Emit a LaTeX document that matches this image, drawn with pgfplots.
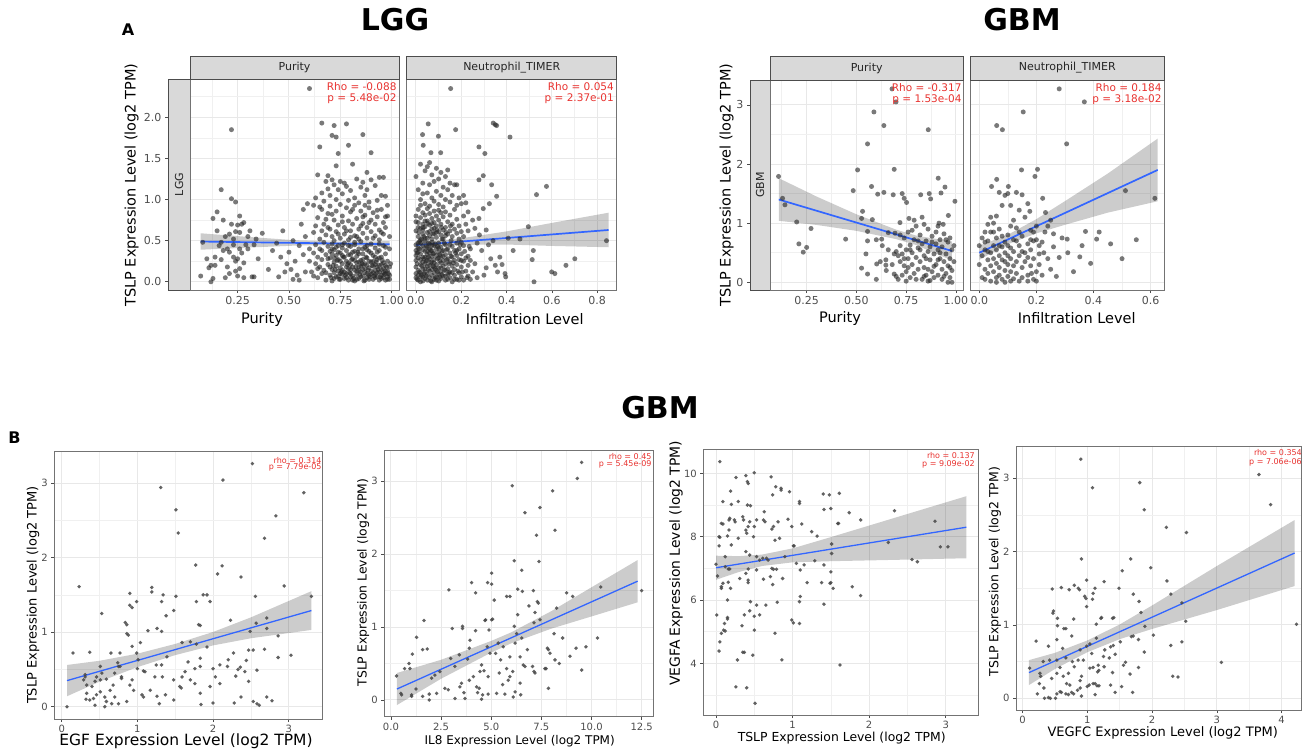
\documentclass[border=0pt]{standalone}
\usepackage{fontspec}
\setmainfont{DejaVu Sans}
\usepackage{pgfplots}
\pgfplotsset{compat=1.18}
\definecolor{ggblue}{HTML}{3366FF}
\definecolor{ggred}{HTML}{E8322F}
\definecolor{strip}{HTML}{D9D9D9}
\definecolor{tickc}{HTML}{4D4D4D}
\pgfplotsset{
  gg/.style={scale only axis, anchor=north west, grid=both,
    major grid style={draw=black!9, line width=1pt},
    minor grid style={draw=black!6, line width=0.6pt},
    axis line style={draw=black!55, line width=0.8pt},
    tick align=outside, tick pos=left, major tick length=3pt, minor tick length=0pt,
    tick style={draw=black!70, line width=0.6pt},
    /pgf/number format/assume math mode=true,
    ticklabel style={text=tickc, font=\fontsize{11}{11}\selectfont},
  },
  ggb/.style={gg, ticklabel style={text=tickc, font=\fontsize{10}{10}\selectfont}},
  pts/.style={only marks, mark=*, mark size=2.5pt, mark options={fill=black!85, draw opacity=0, fill opacity=0.62}},
  ptsb/.style={only marks, mark=*, mark size=1.9pt, mark options={fill=black!72, draw opacity=0, fill opacity=0.85}},
  band/.style={draw=none, fill=black, fill opacity=0.2},
  fitl/.style={ggblue, line width=1.7pt, no marks},
}
\begin{document}
\begin{tikzpicture}
\path[use as bounding box] (0pt,0pt) rectangle (1315pt,-748pt);

% ================= LGG (top left) =================
\begin{axis}[gg, at={(168pt,-79pt)}, width=22pt, height=211pt, xmin=0, xmax=1, ymin=-0.10, ymax=2.466,
  xtick=\empty, ytick={0,0.5,1,1.5,2}, yticklabels={0.0,0.5,1.0,1.5,2.0}, grid=none,
  axis background/.style={fill=strip}, axis line style={draw=black!70, line width=0.8pt}]
\addplot[draw=none, forget plot] coordinates {(0.5,0)};
\end{axis}
\begin{axis}[gg, at={(190pt,-79pt)}, width=209pt, height=211pt, xmin=0.018, xmax=1.036, ymin=-0.10, ymax=2.466,
  xtick={0.25,0.5,0.75,1}, xticklabels={0.25,0.50,0.75,1.00}, minor xtick={0.125,0.375,0.625,0.875},
  ytick={0,0.5,1,1.5,2}, yticklabels={}, minor ytick={0.25,0.75,1.25,1.75,2.25}, ytick style={draw=none}]
\addplot[pts] coordinates {
(0.07,0.07)(0.10,0.28)(0.12,0.00)(0.13,0.04)(0.12,0.20)(0.14,0.20)(0.13,0.77)(0.15,0.85)(0.15,0.62)(0.16,0.44)(0.17,0.27)(0.17,1.12)(0.18,0.75)(0.18,0.38)(0.19,0.55)(0.20,0.18)(0.20,0.40)(0.21,0.58)(0.21,0.10)(0.22,1.85)(0.22,1.01)(0.22,0.70)(0.23,0.30)(0.23,0.45)(0.23,0.52)(0.24,0.97)(0.24,0.25)(0.24,0.13)(0.25,0.07)(0.25,0.69)(0.25,0.28)(0.26,0.40)(0.26,0.80)(0.26,0.60)(0.27,0.70)(0.27,0.35)(0.28,0.72)(0.28,0.23)(0.28,0.05)(0.29,0.45)(0.30,0.40)(0.30,0.55)(0.31,0.62)(0.32,0.06)(0.33,0.06)(0.33,0.45)(0.34,0.52)(0.35,0.28)(0.37,0.59)(0.14,0.30)(0.19,0.05)(0.21,0.36)(0.26,0.16)(0.17,0.48)(0.11,0.17)(0.08,0.48)(0.24,0.61)
(0.40,0.15)(0.42,0.38)(0.45,0.06)(0.46,0.30)(0.47,0.62)(0.49,0.22)(0.50,0.36)(0.51,0.15)(0.52,0.50)(0.53,0.25)(0.54,0.08)(0.55,0.44)(0.55,0.02)(0.56,0.70)(0.57,0.33)(0.57,0.88)(0.58,0.12)(0.58,0.55)(0.59,0.95)(0.60,2.35)(0.60,0.25)(0.60,0.40)(0.44,0.47)(0.52,0.03)(0.48,0.12)
(0.66,1.93)(0.72,1.90)(0.78,1.92)(0.86,1.79)(0.71,1.78)(0.73,1.76)(0.65,1.64)(0.79,1.66)(0.74,1.56)(0.90,1.57)(0.81,1.43)(0.73,1.41)(0.64,1.30)(0.69,1.29)(0.88,1.33)(0.94,1.27)(0.96,1.27)(0.71,1.24)(0.75,1.22)(0.77,1.20)(0.83,1.25)(0.86,1.21)(0.90,1.24)(0.68,1.22)(0.72,1.18)(0.78,1.16)(0.69,1.13)(0.74,1.12)(0.80,1.11)(0.85,1.15)(0.88,1.12)(0.92,1.17)(0.95,1.05)(0.66,1.08)(0.63,1.02)(0.97,1.04)(0.62,0.93)(0.67,0.98)(0.70,1.05)(0.73,1.00)(0.76,1.07)(0.79,0.99)(0.82,1.02)(0.84,0.96)(0.87,1.05)(0.89,0.97)(0.93,0.99)(0.98,0.93)(0.98,0.80)(0.99,0.55)
(0.62,0.60)(0.64,0.78)(0.65,0.52)(0.66,0.88)(0.67,0.70)(0.68,0.57)(0.69,0.83)(0.70,0.64)(0.70,0.92)(0.71,0.55)(0.72,0.75)(0.73,0.86)(0.73,0.61)(0.74,0.69)(0.75,0.53)(0.75,0.94)(0.76,0.80)(0.77,0.66)(0.77,0.58)(0.78,0.90)(0.79,0.74)(0.79,0.51)(0.80,0.85)(0.80,0.62)(0.81,0.70)(0.82,0.56)(0.82,0.93)(0.83,0.77)(0.84,0.64)(0.84,0.52)(0.85,0.86)(0.86,0.71)(0.86,0.59)(0.87,0.81)(0.88,0.66)(0.88,0.53)(0.89,0.90)(0.90,0.75)(0.90,0.61)(0.91,0.84)(0.92,0.56)(0.92,0.70)(0.93,0.79)(0.94,0.63)(0.94,0.51)(0.95,0.88)(0.96,0.72)(0.96,0.58)(0.97,0.66)(0.63,0.68)(0.65,0.91)(0.68,0.76)(0.71,0.82)(0.74,0.58)(0.76,0.73)(0.78,0.62)(0.81,0.88)(0.83,0.55)(0.85,0.68)(0.87,0.93)(0.89,0.72)(0.91,0.53)(0.93,0.87)(0.95,0.60)(0.97,0.79)(0.72,0.50)(0.80,0.54)(0.86,0.79)(0.69,0.66)(0.66,0.62)
(0.61,0.12)(0.62,0.35)(0.63,0.22)(0.63,0.45)(0.64,0.05)(0.64,0.30)(0.65,0.18)(0.65,0.40)(0.66,0.10)(0.66,0.27)(0.67,0.48)(0.67,0.14)(0.68,0.33)(0.68,0.02)(0.69,0.21)(0.69,0.43)(0.70,0.08)(0.70,0.29)(0.70,0.37)(0.71,0.15)(0.71,0.46)(0.71,0.01)(0.72,0.24)(0.72,0.39)(0.72,0.11)(0.73,0.06)(0.73,0.32)(0.73,0.19)(0.74,0.44)(0.74,0.13)(0.74,0.27)(0.75,0.03)(0.75,0.35)(0.75,0.17)(0.76,0.22)(0.76,0.41)(0.76,0.09)(0.77,0.30)(0.77,0.12)(0.77,0.47)(0.78,0.05)(0.78,0.25)(0.78,0.38)(0.79,0.16)(0.79,0.02)(0.79,0.33)(0.80,0.10)(0.80,0.43)(0.80,0.21)(0.81,0.07)(0.81,0.28)(0.81,0.36)(0.82,0.14)(0.82,0.01)(0.82,0.45)(0.83,0.23)(0.83,0.09)(0.83,0.31)(0.84,0.18)(0.84,0.40)(0.84,0.04)(0.85,0.12)(0.85,0.26)(0.85,0.49)(0.86,0.07)(0.86,0.34)(0.86,0.15)(0.87,0.02)(0.87,0.22)(0.87,0.42)(0.88,0.10)(0.88,0.29)(0.88,0.05)(0.89,0.17)(0.89,0.37)(0.89,0.08)(0.90,0.13)(0.90,0.24)(0.90,0.46)(0.91,0.03)(0.91,0.19)(0.91,0.32)(0.92,0.09)(0.92,0.41)(0.92,0.14)(0.93,0.06)(0.93,0.27)(0.93,0.11)(0.94,0.20)(0.94,0.02)(0.94,0.38)(0.95,0.08)(0.95,0.15)(0.95,0.30)(0.96,0.05)(0.96,0.23)(0.96,0.44)(0.97,0.10)(0.97,0.02)(0.97,0.34)(0.98,0.13)(0.98,0.06)(0.98,0.25)(0.99,0.18)(0.99,0.08)(0.99,0.40)
(0.62,0.07)(0.64,0.16)(0.66,0.38)(0.68,0.11)(0.69,0.28)(0.70,0.18)(0.71,0.34)(0.72,0.04)(0.73,0.42)(0.74,0.07)(0.75,0.25)(0.76,0.14)(0.77,0.04)(0.78,0.18)(0.79,0.44)(0.80,0.15)(0.81,0.02)(0.82,0.26)(0.83,0.13)(0.84,0.34)(0.85,0.06)(0.86,0.21)(0.87,0.11)(0.88,0.39)(0.89,0.03)(0.90,0.09)(0.91,0.25)(0.92,0.05)(0.93,0.18)(0.94,0.12)(0.95,0.04)(0.96,0.16)(0.97,0.20)(0.98,0.03)(0.72,0.29)(0.76,0.32)(0.80,0.06)(0.84,0.24)(0.88,0.20)(0.92,0.30)(0.96,0.11)(0.74,0.36)(0.78,0.10)(0.82,0.37)(0.86,0.27)(0.90,0.35)(0.94,0.29)(0.83,0.03)(0.87,0.16)(0.91,0.11)(0.93,0.36)(0.79,0.23)(0.85,0.19)(0.89,0.25)(0.95,0.21)(0.97,0.13)(0.99,0.03)(0.75,0.10)(0.81,0.18)
(0.705,0.05)(0.715,0.20)(0.725,0.15)(0.735,0.26)(0.745,0.03)(0.755,0.12)(0.765,0.30)(0.775,0.08)(0.785,0.21)(0.795,0.11)(0.805,0.27)(0.815,0.04)(0.825,0.18)(0.835,0.36)(0.845,0.09)(0.855,0.22)(0.865,0.01)(0.875,0.30)(0.885,0.14)(0.895,0.06)(0.905,0.20)(0.915,0.07)(0.925,0.24)(0.935,0.15)(0.945,0.06)(0.955,0.26)(0.965,0.09)(0.975,0.18)(0.985,0.10)(0.995,0.22)(0.76,0.45)(0.82,0.48)(0.88,0.44)(0.94,0.46)(0.71,0.40)(0.80,0.33)(0.86,0.40)(0.92,0.21)(0.97,0.42)(0.84,0.14)
};
\addplot[band] coordinates {(0.07,0.59)(0.3,0.546)(0.55,0.502)(0.75,0.487)(0.99,0.494)(0.99,0.414)(0.75,0.443)(0.55,0.442)(0.3,0.416)(0.07,0.39)} -- cycle;
\addplot[fitl] coordinates {(0.07,0.4895)(0.99,0.4565)};
\end{axis}
\begin{axis}[gg, at={(406.7pt,-79pt)}, width=210pt, height=211pt, xmin=-0.041, xmax=0.886, ymin=-0.10, ymax=2.466,
  xtick={0,0.2,0.4,0.6,0.8}, xticklabels={0.0,0.2,0.4,0.6,0.8}, minor xtick={0.1,0.3,0.5,0.7},
  ytick={0,0.5,1,1.5,2}, yticklabels={}, minor ytick={0.25,0.75,1.25,1.75,2.25}, ytick style={draw=none}]
\addplot[pts] coordinates {
(0.153,2.35)(0.054,1.92)(0.175,1.85)(0.341,1.93)(0.350,1.91)(0.356,1.90)(0.029,1.79)(0.099,1.77)(0.415,1.76)(0.032,1.66)(0.066,1.57)(0.109,1.57)(0.278,1.64)(0.304,1.56)(0.297,1.29)(0.278,1.24)(0.334,1.18)(0.576,1.16)(0.532,1.06)(0.356,1.04)(0.324,0.95)(0.297,0.89)(0.278,0.77)(0.496,0.67)(0.459,0.52)(0.407,0.53)(0.429,0.38)(0.518,0.38)(0.513,0.27)(0.701,0.28)(0.662,0.20)(0.841,0.50)(0.599,0.12)(0.613,0.10)(0.521,0.00)(0.393,0.10)(0.396,0.06)(0.37,0.30)(0.35,0.20)(0.33,0.28)(0.31,0.17)(0.36,0.12)(0.30,0.08)(0.27,0.05)(0.25,0.12)(0.26,0.22)(0.29,0.38)(0.32,0.45)(0.24,0.40)(0.28,0.57)(0.26,0.65)(0.23,0.85)(0.25,0.75)(0.22,0.96)(0.21,1.05)(0.23,0.31)(0.31,0.63)(0.34,0.50)(0.38,0.21)(0.27,0.47)
(0.00,1.28)(0.01,1.12)(0.02,1.43)(0.02,1.00)(0.03,1.20)(0.04,1.35)(0.04,0.95)(0.05,1.08)(0.05,1.40)(0.06,1.18)(0.06,0.92)(0.07,1.30)(0.07,1.02)(0.08,1.22)(0.08,0.98)(0.09,1.38)(0.09,1.10)(0.10,0.94)(0.10,1.25)(0.11,1.05)(0.11,1.33)(0.12,1.15)(0.12,0.91)(0.13,1.00)(0.13,1.28)(0.14,1.12)(0.15,0.97)(0.15,1.20)(0.16,1.05)(0.17,1.18)(0.18,0.93)(0.18,1.18)(0.19,1.02)(0.20,0.95)(0.03,1.07)(0.14,1.36)(0.06,1.45)
(0.00,0.62)(0.00,0.80)(0.01,0.55)(0.01,0.72)(0.01,0.88)(0.02,0.65)(0.02,0.51)(0.02,0.78)(0.03,0.58)(0.03,0.84)(0.03,0.70)(0.04,0.53)(0.04,0.67)(0.04,0.81)(0.05,0.60)(0.05,0.74)(0.05,0.89)(0.06,0.56)(0.06,0.69)(0.06,0.83)(0.07,0.52)(0.07,0.64)(0.07,0.77)(0.08,0.59)(0.08,0.72)(0.08,0.86)(0.09,0.54)(0.09,0.68)(0.09,0.80)(0.10,0.61)(0.10,0.75)(0.10,0.87)(0.11,0.57)(0.11,0.70)(0.12,0.63)(0.12,0.79)(0.12,0.52)(0.13,0.66)(0.13,0.85)(0.14,0.58)(0.14,0.73)(0.15,0.62)(0.15,0.81)(0.16,0.55)(0.16,0.70)(0.17,0.64)(0.17,0.88)(0.18,0.59)(0.18,0.76)(0.19,0.52)(0.19,0.68)(0.20,0.61)(0.21,0.80)(0.21,0.55)(0.22,0.70)(0.23,0.62)(0.02,0.93)(0.04,0.74)(0.06,0.61)(0.08,0.65)(0.11,0.84)(0.13,0.56)(0.03,0.63)(0.05,0.53)(0.07,0.71)(0.09,0.60)(0.01,0.66)(0.00,0.73)
(0.00,0.05)(0.00,0.18)(0.00,0.32)(0.00,0.45)(0.00,0.10)(0.00,0.26)(0.01,0.02)(0.01,0.14)(0.01,0.29)(0.01,0.41)(0.01,0.08)(0.01,0.36)(0.02,0.00)(0.02,0.21)(0.02,0.34)(0.02,0.47)(0.02,0.11)(0.02,0.27)(0.03,0.06)(0.03,0.16)(0.03,0.39)(0.03,0.24)(0.03,0.44)(0.03,0.01)(0.04,0.12)(0.04,0.30)(0.04,0.04)(0.04,0.22)(0.04,0.37)(0.04,0.49)(0.05,0.09)(0.05,0.19)(0.05,0.33)(0.05,0.42)(0.05,0.02)(0.05,0.26)(0.06,0.13)(0.06,0.05)(0.06,0.28)(0.06,0.40)(0.06,0.20)(0.06,0.46)(0.07,0.00)(0.07,0.15)(0.07,0.31)(0.07,0.38)(0.07,0.08)(0.07,0.24)(0.08,0.03)(0.08,0.18)(0.08,0.35)(0.08,0.44)(0.08,0.11)(0.08,0.27)(0.09,0.06)(0.09,0.21)(0.09,0.40)(0.09,0.14)(0.09,0.32)(0.10,0.01)(0.10,0.17)(0.10,0.29)(0.10,0.47)(0.10,0.09)(0.10,0.36)(0.11,0.04)(0.11,0.23)(0.11,0.42)(0.11,0.12)(0.11,0.31)(0.12,0.07)(0.12,0.19)(0.12,0.38)(0.12,0.26)(0.13,0.02)(0.13,0.14)(0.13,0.33)(0.13,0.45)(0.13,0.22)(0.14,0.09)(0.14,0.28)(0.14,0.40)(0.14,0.16)(0.15,0.05)(0.15,0.24)(0.15,0.35)(0.15,0.12)(0.16,0.00)(0.16,0.19)(0.16,0.43)(0.16,0.30)(0.17,0.08)(0.17,0.26)(0.17,0.38)(0.17,0.15)(0.18,0.03)(0.18,0.21)(0.18,0.47)(0.18,0.32)(0.19,0.11)(0.19,0.27)(0.19,0.40)(0.20,0.06)(0.20,0.18)(0.20,0.34)(0.21,0.02)(0.21,0.25)(0.21,0.44)(0.22,0.13)(0.22,0.29)(0.23,0.07)(0.23,0.20)(0.24,0.03)(0.24,0.26)(0.19,0.02)(0.20,0.48)(0.01,0.47)(0.03,0.30)(0.05,0.37)(0.07,0.44)(0.09,0.02)(0.11,0.17)(0.13,0.07)(0.15,0.45)(0.17,0.03)(0.00,0.38)(0.02,0.06)(0.04,0.16)(0.06,0.35)(0.08,0.23)(0.10,0.41)(0.12,0.31)(0.14,0.03)(0.16,0.11)(0.18,0.38)(0.20,0.26)
(0.005,0.03)(0.015,0.12)(0.025,0.19)(0.035,0.28)(0.045,0.07)(0.055,0.15)(0.065,0.23)(0.075,0.34)(0.085,0.05)(0.095,0.12)(0.105,0.25)(0.115,0.37)(0.005,0.22)(0.015,0.40)(0.025,0.52)(0.035,0.10)(0.045,0.43)(0.055,0.30)(0.065,0.01)(0.075,0.19)(0.085,0.46)(0.095,0.28)(0.105,0.06)(0.115,0.52)(0.125,0.14)(0.135,0.39)(0.145,0.22)(0.155,0.31)(0.005,0.35)(0.015,0.49)(0.025,0.08)(0.035,0.55)(0.045,0.25)(0.055,0.47)(0.065,0.38)(0.075,0.58)(0.085,0.16)(0.095,0.43)(0.105,0.33)(0.115,0.09)(0.125,0.47)(0.135,0.27)(0.145,0.11)(0.155,0.50)(0.165,0.23)(0.175,0.35)(0.185,0.13)(0.195,0.45)(0.205,0.12)(0.215,0.37)(0.225,0.05)(0.235,0.43)(0.012,0.60)(0.032,0.66)(0.052,0.71)(0.072,0.48)(0.092,0.63)(0.112,0.66)(0.132,0.60)(0.152,0.68)
};
\addplot[band] coordinates {(0,0.496)(0.1,0.503)(0.2,0.529)(0.4,0.613)(0.6,0.716)(0.85,0.84)(0.85,0.42)(0.6,0.436)(0.4,0.453)(0.2,0.449)(0.1,0.433)(0,0.396)} -- cycle;
\addplot[fitl] coordinates {(0,0.446)(0.85,0.63)};
\end{axis}
\draw[fill=strip, draw=black!70, line width=0.7pt] (190pt,-56pt) rectangle (399pt,-79pt);
\draw[fill=strip, draw=black!70, line width=0.7pt] (406.7pt,-56pt) rectangle (616.7pt,-79pt);
\node[font=\fontsize{11}{11}\selectfont, text=black!85] at (294.5pt,-67.5pt) {Purity};
\node[font=\fontsize{11}{11}\selectfont, text=black!85] at (511.7pt,-67.5pt) {Neutrophil\_TIMER};
\node[rotate=90, font=\fontsize{11}{11}\selectfont, text=black!85] at (179pt,-184.5pt) {LGG};
\node[font=\fontsize{10.5}{10.5}\selectfont, text=ggred, anchor=base east, inner sep=0pt] at (396.7pt,-90.5pt) {Rho = -0.088};
\node[font=\fontsize{10.5}{10.5}\selectfont, text=ggred, anchor=base east, inner sep=0pt] at (396.7pt,-101.1pt) {p = 5.48e-02};
\node[font=\fontsize{10.5}{10.5}\selectfont, text=ggred, anchor=base east, inner sep=0pt] at (614pt,-90.5pt) {Rho = 0.054};
\node[font=\fontsize{10.5}{10.5}\selectfont, text=ggred, anchor=base east, inner sep=0pt] at (614pt,-101.1pt) {p = 2.37e-01};
\node[rotate=90, font=\fontsize{14.5}{14.5}\selectfont] at (131.7pt,-185pt) {TSLP Expression Level (log2 TPM)};
\node[font=\fontsize{14.5}{14.5}\selectfont] at (262pt,-319pt) {Purity};
\node[font=\fontsize{14.5}{14.5}\selectfont] at (524.7pt,-319pt) {Infiltration Level};

% ================= GBM (top right) =================
\begin{axis}[gg, at={(750pt,-80pt)}, width=20pt, height=210pt, xmin=0, xmax=1, ymin=-0.13, ymax=3.42,
  xtick=\empty, ytick={0,1,2,3}, grid=none,
  axis background/.style={fill=strip}, axis line style={draw=black!70, line width=0.8pt}]
\addplot[draw=none, forget plot] coordinates {(0.5,0)};
\end{axis}
\begin{axis}[gg, at={(770pt,-80pt)}, width=193.3pt, height=210pt, xmin=0.066, xmax=1.037, ymin=-0.13, ymax=3.42,
  xtick={0.25,0.5,0.75,1}, xticklabels={0.25,0.50,0.75,1.00}, minor xtick={0.125,0.375,0.625,0.875},
  ytick={0,1,2,3}, yticklabels={}, minor ytick={0.5,1.5,2.5}, ytick style={draw=none}]
\addplot[pts] coordinates {
(0.109,1.79)(0.129,1.42)(0.141,1.31)(0.200,1.02)(0.272,0.91)(0.211,0.65)(0.25,0.59)(0.233,0.51)(0.446,0.73)(0.484,1.55)(0.506,1.90)(0.531,1.20)(0.526,1.08)(0.556,2.34)(0.588,2.88)(0.576,1.62)(0.607,1.49)(0.638,2.65)(0.638,1.52)(0.679,3.27)(0.699,3.05)(0.690,1.91)(0.861,2.58)(0.556,0.86)(0.556,0.70)(0.548,0.48)(0.526,0.24)(0.556,0.14)(0.602,0.31)(0.627,0.73)(0.648,0.38)(0.648,0.29)(0.66,0.84)(0.694,0.83)(0.719,1.01)(0.685,1.48)(0.73,1.50)(0.74,1.42)(0.752,1.35)(0.764,1.08)(0.823,1.48)(0.866,1.50)(0.873,1.41)(0.925,1.51)(0.945,1.61)(0.911,1.76)(0.995,1.37)(0.962,1.13)(0.915,1.00)(0.936,0.98)(0.58,1.06)(0.60,0.72)(0.69,0.14)(0.70,0.10)(0.71,0.05)
(0.70,0.52)(0.71,0.45)(0.72,0.35)(0.72,0.62)(0.73,0.12)(0.73,0.48)(0.74,0.28)(0.74,0.75)(0.75,0.55)(0.75,0.18)(0.76,0.40)(0.76,0.85)(0.77,0.08)(0.77,0.63)(0.78,0.30)(0.78,0.50)(0.79,0.72)(0.79,0.15)(0.80,0.42)(0.80,0.95)(0.81,0.58)(0.81,0.22)(0.82,0.80)(0.82,0.35)(0.83,0.05)(0.83,0.65)(0.83,1.10)(0.84,0.45)(0.84,0.25)(0.85,0.70)(0.85,0.12)(0.86,0.52)(0.86,0.90)(0.86,0.02)(0.87,0.38)(0.87,0.60)(0.88,0.18)(0.88,0.78)(0.89,0.48)(0.89,0.08)(0.90,0.65)(0.90,0.30)(0.91,0.55)(0.91,0.95)(0.91,0.12)(0.92,0.40)(0.92,0.72)(0.93,0.22)(0.93,0.05)(0.93,0.60)(0.94,0.35)(0.94,0.82)(0.95,0.48)(0.95,0.15)(0.96,0.68)(0.96,0.28)(0.97,0.40)(0.97,0.08)(0.97,0.75)(0.98,0.55)(0.98,0.00)(0.98,0.20)(0.99,0.62)(0.99,0.35)(0.75,0.02)(0.78,0.88)(0.80,0.05)(0.84,0.98)(0.85,0.40)(0.87,0.03)(0.89,0.27)(0.92,0.50)(0.94,0.10)(0.96,0.00)(0.82,0.55)(0.88,0.68)(0.72,0.80)(0.76,0.25)(0.79,1.05)(0.81,0.70)(0.84,0.10)(0.90,0.85)(0.95,0.72)(0.97,0.25)(0.74,0.40)(0.77,0.55)(0.86,0.22)(0.91,0.38)(0.69,0.48)(0.68,0.30)(0.66,0.55)(0.65,0.20)(0.63,0.62)(0.62,0.35)(0.60,0.05)
};
\addplot[band] coordinates {(0.11,1.76)(0.3,1.45)(0.5,1.15)(0.7,0.89)(0.8,0.79)(0.98,0.69)(0.98,0.37)(0.8,0.63)(0.7,0.73)(0.5,0.87)(0.3,0.97)(0.11,1.04)} -- cycle;
\addplot[fitl] coordinates {(0.11,1.40)(0.98,0.53)};
\end{axis}
\begin{axis}[gg, at={(970.7pt,-80pt)}, width=193.3pt, height=210pt, xmin=-0.030, xmax=0.647, ymin=-0.13, ymax=3.42,
  xtick={0,0.2,0.4,0.6}, xticklabels={0.0,0.2,0.4,0.6}, minor xtick={0.1,0.3,0.5},
  ytick={0,1,2,3}, yticklabels={}, minor ytick={0.5,1.5,2.5}, ytick style={draw=none}]
\addplot[pts] coordinates {
(0.28,3.27)(0.368,3.05)(0.154,2.88)(0.061,2.65)(0.081,2.58)(0.306,2.34)(0.148,1.90)(0.204,1.91)(0.195,1.79)(0.061,1.74)(0.043,1.62)(0.102,1.62)(0.512,1.55)(0.615,1.42)(0.222,1.42)(0.232,1.18)(0.177,1.20)(0.372,0.86)(0.411,0.73)(0.308,0.73)(0.28,0.42)(0.352,0.43)(0.226,0.50)(0.183,0.15)(0.25,1.05)(0.26,0.82)(0.24,0.95)(0.20,0.72)(0.21,0.62)(0.19,0.85)(0.17,1.33)(0.16,1.10)(0.15,1.48)(0.14,1.22)(0.13,1.52)(0.12,1.05)(0.11,1.30)(0.10,1.50)(0.09,1.47)(0.08,1.30)(0.07,1.52)(0.06,1.12)(0.05,1.00)(0.04,1.10)(0.03,0.98)(0.02,0.85)
(0.00,0.30)(0.00,0.62)(0.01,0.08)(0.01,0.45)(0.01,0.75)(0.02,0.22)(0.02,0.55)(0.02,0.05)(0.03,0.38)(0.03,0.70)(0.03,0.15)(0.04,0.50)(0.04,0.02)(0.04,0.28)(0.04,0.85)(0.05,0.62)(0.05,0.18)(0.05,0.40)(0.06,0.08)(0.06,0.75)(0.06,0.32)(0.06,0.55)(0.07,0.12)(0.07,0.45)(0.07,0.90)(0.07,0.25)(0.08,0.60)(0.08,0.05)(0.08,0.38)(0.08,0.78)(0.09,0.20)(0.09,0.50)(0.09,0.00)(0.09,0.68)(0.10,0.30)(0.10,0.10)(0.10,0.45)(0.10,0.80)(0.11,0.58)(0.11,0.18)(0.11,0.02)(0.11,0.40)(0.12,0.72)(0.12,0.28)(0.12,0.52)(0.12,0.06)(0.13,0.35)(0.13,0.92)(0.13,0.15)(0.14,0.62)(0.14,0.45)(0.14,0.02)(0.15,0.25)(0.15,0.78)(0.15,0.08)(0.16,0.50)(0.16,0.35)(0.17,0.65)(0.17,0.12)(0.17,0.42)(0.18,0.88)(0.18,0.28)(0.18,0.55)(0.19,0.05)(0.19,0.70)(0.19,0.40)(0.20,0.18)(0.20,0.95)(0.21,0.48)(0.21,0.30)(0.22,0.12)(0.22,0.68)(0.23,0.85)(0.24,0.40)(0.25,0.22)(0.26,0.60)(0.27,0.10)(0.29,0.75)(0.31,0.50)(0.33,0.18)(0.36,0.62)(0.39,0.32)(0.42,0.85)(0.46,0.65)(0.50,0.40)(0.55,0.72)(0.03,0.52)(0.05,0.85)(0.07,0.62)(0.09,0.35)(0.11,0.95)(0.13,0.70)(0.15,0.52)(0.17,0.02)(0.02,0.68)(0.06,0.00)(0.10,0.62)(0.14,0.85)(0.18,0.72)(0.20,0.02)
};
\addplot[band] coordinates {(0,0.62)(0.1,0.804)(0.2,1.068)(0.3,1.372)(0.45,1.838)(0.625,2.43)(0.625,1.37)(0.45,1.178)(0.3,0.972)(0.2,0.828)(0.1,0.644)(0,0.38)} -- cycle;
\addplot[fitl] coordinates {(0,0.50)(0.625,1.90)};
\end{axis}
\draw[fill=strip, draw=black!70, line width=0.7pt] (770pt,-56pt) rectangle (963.3pt,-80pt);
\draw[fill=strip, draw=black!70, line width=0.7pt] (970.7pt,-56pt) rectangle (1164pt,-80pt);
\node[font=\fontsize{11}{11}\selectfont, text=black!85] at (866.7pt,-68pt) {Purity};
\node[font=\fontsize{11}{11}\selectfont, text=black!85] at (1067.3pt,-68pt) {Neutrophil\_TIMER};
\node[rotate=90, font=\fontsize{11}{11}\selectfont, text=black!85] at (760pt,-185pt) {GBM};
\node[font=\fontsize{10.5}{10.5}\selectfont, text=ggred, anchor=base east, inner sep=0pt] at (961.7pt,-91.5pt) {Rho = -0.317};
\node[font=\fontsize{10.5}{10.5}\selectfont, text=ggred, anchor=base east, inner sep=0pt] at (961.7pt,-102.1pt) {p = 1.53e-04};
\node[font=\fontsize{10.5}{10.5}\selectfont, text=ggred, anchor=base east, inner sep=0pt] at (1161.7pt,-91.5pt) {Rho = 0.184};
\node[font=\fontsize{10.5}{10.5}\selectfont, text=ggred, anchor=base east, inner sep=0pt] at (1161.7pt,-102.1pt) {p = 3.18e-02};
\node[rotate=90, font=\fontsize{14.5}{14.5}\selectfont] at (726.7pt,-185pt) {TSLP Expression Level (log2 TPM)};
\node[font=\fontsize{14.5}{14.5}\selectfont] at (840pt,-318pt) {Purity};
\node[font=\fontsize{14.5}{14.5}\selectfont] at (1076.7pt,-318pt) {Infiltration Level};

% ================= B1: EGF =================
\begin{axis}[ggb, at={(54.3pt,-451.7pt)}, width=268.4pt, height=267.3pt, xmin=-0.098, xmax=3.449, ymin=-0.165, ymax=3.42,
  xtick={0,1,2,3}, minor xtick={0.5,1.5,2.5}, ytick={0,1,2,3}, minor ytick={0.5,1.5,2.5}]
\addplot[ptsb] coordinates {
(2.52,3.26)(2.13,3.04)(1.31,2.94)(3.20,2.87)(1.51,2.64)(1.54,2.33)(2.83,2.56)(2.68,2.26)(1.77,1.90)(2.12,1.89)(2.06,1.78)(2.37,1.74)(0.23,1.61)(1.19,1.60)(1.19,1.54)(2.94,1.62)(1.34,1.50)(1.51,1.48)(0.90,1.52)(1.87,1.50)(1.92,1.50)(1.78,1.41)(1.96,1.41)(2.56,1.48)(3.30,1.48)(0.99,1.41)(1.32,1.41)(1.48,1.29)(0.53,1.25)(0.90,1.36)(0.93,1.33)(1.38,1.22)(2.23,1.16)(2.71,1.19)(1.81,1.10)(1.83,1.09)(0.84,1.13)(0.86,1.10)(1.26,1.05)(1.32,1.01)(2.49,1.01)(2.71,1.05)(2.86,0.95)(0.86,0.98)(0.88,0.96)(1.14,1.02)(3.03,0.69)(1.59,0.86)(1.70,0.87)(1.78,0.84)(0.15,0.72)(0.37,0.73)(0.65,0.72)(0.99,0.72)(1.04,0.86)(0.93,0.81)(0.51,0.54)(0.74,0.59)(0.77,0.54)(0.31,0.43)(0.31,0.40)(0.46,0.40)(0.51,0.36)(0.33,0.18)(0.37,0.09)(0.44,0.02)(0.57,0.00)(0.07,0.00)
(1.92,0.80)(1.83,0.65)(2.00,0.51)(2.09,0.56)(2.27,0.72)(2.36,0.53)(2.33,0.50)(2.42,0.47)(2.44,0.62)(2.47,0.76)(2.53,0.76)(2.47,0.34)(2.58,0.49)(2.68,0.77)(2.19,0.54)(2.30,0.41)(2.37,0.13)(2.28,0.05)(2.03,0.40)(1.96,0.27)(2.00,0.05)(1.84,0.03)(1.83,0.18)(1.76,0.31)(1.70,0.36)(1.63,0.47)(1.59,0.40)(1.56,0.27)(1.58,0.25)(1.48,0.09)(1.33,0.40)(1.32,0.56)(1.25,0.56)(1.23,0.40)(1.26,0.14)(1.29,0.04)(1.37,0.16)(1.17,0.22)(1.08,0.13)(1.06,0.16)(1.08,0.48)(1.10,0.47)(1.01,0.63)(1.00,0.51)(0.93,0.36)(0.90,0.29)(0.95,0.22)(0.86,0.07)(0.79,0.40)(0.79,0.38)(0.75,0.54)(0.70,0.45)(0.68,0.29)(0.70,0.13)(0.75,0.04)(0.66,0.04)(0.59,0.07)(0.57,0.13)(0.51,0.20)(0.46,0.16)(0.42,0.11)(0.40,0.27)(0.44,0.34)(0.33,0.29)(0.29,0.36)(0.32,0.10)(0.53,0.45)(0.59,0.37)(0.64,0.22)(2.53,0.07)(2.58,0.04)(2.61,0.02)(2.78,0.08)(2.71,0.13)(2.86,0.66)(2.57,1.12)(2.20,0.63)(2.09,0.31)(1.76,0.51)(1.83,0.54)(1.48,0.36)(1.39,0.67)(1.67,0.60)(0.77,0.72)
};
\addplot[band] coordinates {(0.07,0.56)(0.5,0.616)(1.0,0.711)(1.5,0.842)(2.0,1.002)(2.5,1.198)(3.3,1.55)(3.3,1.03)(2.5,0.918)(2.0,0.822)(1.5,0.692)(1.0,0.531)(0.5,0.336)(0.07,0.14)} -- cycle;
\addplot[fitl, line width=1.3pt] coordinates {(0.07,0.350)(3.3,1.290)};
\end{axis}
\node[font=\fontsize{8}{8}\selectfont, text=ggred, anchor=base east, inner sep=0pt] at (321.7pt,-463.4pt) {rho = 0.314};
\node[font=\fontsize{8}{8}\selectfont, text=ggred, anchor=base east, inner sep=0pt] at (321.7pt,-469.9pt) {p = 7.79e-05};
\node[rotate=90, font=\fontsize{13}{13}\selectfont] at (33pt,-595pt) {TSLP Expression Level (log2 TPM)};
\node[font=\fontsize{15.5}{15.5}\selectfont] at (186pt,-741pt) {EGF Expression Level (log2 TPM)};

% ================= B2: IL8 =================
\begin{axis}[ggb, at={(384.3pt,-450pt)}, width=269pt, height=266.7pt, xmin=-0.33, xmax=13.08, ymin=-0.23, ymax=3.43,
  xtick={0,2.5,5,7.5,10,12.5}, xticklabels={0.0,2.5,5.0,7.5,10.0,12.5}, minor xtick={1.25,3.75,6.25,8.75,11.25},
  ytick={0,1,2,3}, minor ytick={0.5,1.5,2.5}]
\addplot[ptsb] coordinates {
(9.51,3.26)(9.29,3.04)(6.05,2.94)(8.06,2.87)(6.68,2.57)(7.43,2.64)(7.26,2.26)(8.18,2.33)(6.15,1.91)(7.38,1.90)(6.52,1.78)(5.02,1.74)(4.02,1.61)(4.22,1.47)(4.82,1.61)(5.02,1.59)(2.89,1.51)(5.77,1.42)(5.93,1.42)(6.32,1.52)(6.55,1.49)(7.10,1.50)(8.76,1.47)(9.06,1.42)(10.46,1.55)(12.50,1.50)(5.15,1.37)(7.35,1.33)(1.65,1.09)(1.28,0.86)(1.07,0.63)(0.90,0.50)(0.68,0.43)(0.95,0.43)(0.28,0.33)(0.50,0.09)(0.53,0.07)(1.03,0.07)(1.03,0.05)(1.25,0.15)(1.58,0.05)(1.58,0.69)(1.81,0.70)(1.91,0.00)(1.91,0.08)(2.03,0.30)(2.19,0.34)(2.28,0.09)(2.44,0.39)(2.69,0.16)(2.86,0.14)(2.98,0.57)(3.06,0.98)(3.19,0.46)(3.19,0.02)(3.41,0.62)(3.44,0.18)(3.52,0.23)(3.57,1.01)(3.57,0.98)(3.64,0.10)(3.69,0.02)(3.82,0.56)(3.91,0.71)(3.94,0.82)(3.91,0.27)(4.11,0.32)(4.22,0.95)(4.27,0.18)(4.32,0.10)(4.40,0.16)(4.44,0.39)(4.52,0.48)(4.52,0.01)(4.57,0.07)(4.64,0.40)(4.69,1.09)(4.72,1.10)(4.80,0.73)(4.85,0.32)(4.85,0.08)(4.89,0.96)(4.94,0.64)(5.02,1.10)(5.07,1.11)(5.22,0.64)(5.27,0.09)(5.35,0.78)(5.40,0.37)(5.47,0.55)(5.57,0.21)(5.60,0.73)(5.68,0.08)(5.77,0.43)(5.85,0.27)(5.93,0.59)(5.93,0.32)(6.07,0.39)(6.10,0.04)(6.15,1.01)(6.19,0.78)(6.19,0.11)(6.27,0.91)(6.32,1.17)(6.44,0.59)(6.44,0.23)(6.47,0.07)(6.52,0.85)(6.60,0.48)(6.68,0.46)(6.80,0.69)(6.88,1.29)(7.06,0.46)(7.13,1.06)(7.18,1.20)(7.13,0.39)(7.18,0.37)(7.30,1.35)(7.43,1.10)(7.68,0.43)(7.80,0.71)(7.85,0.69)(7.85,0.16)(7.93,0.64)(8.13,0.91)(8.18,0.55)(8.26,1.26)(8.39,0.50)(8.56,0.85)(8.93,0.60)(9.23,0.71)(9.51,0.41)(9.72,0.73)(10.30,0.85)(7.73,0.43)
};
\addplot[band] coordinates {(0.3,0.37)(2.5,0.551)(5.0,0.81)(6.0,0.928)(8.0,1.219)(10,1.546)(12.3,1.92)(12.3,1.34)(10,1.146)(8.0,0.979)(6.0,0.778)(5.0,0.65)(2.5,0.291)(0.3,-0.07)} -- cycle;
\addplot[fitl, line width=1.3pt] coordinates {(0.3,0.150)(12.3,1.630)};
\end{axis}
\node[font=\fontsize{8}{8}\selectfont, text=ggred, anchor=base east, inner sep=0pt] at (651.7pt,-459.4pt) {rho = 0.45};
\node[font=\fontsize{8}{8}\selectfont, text=ggred, anchor=base east, inner sep=0pt] at (651.7pt,-466.4pt) {p = 5.45e-09};
\node[rotate=90, font=\fontsize{12.4}{12.4}\selectfont] at (363.3pt,-582.5pt) {TSLP Expression Level (log2 TPM)};
\node[font=\fontsize{12}{12}\selectfont] at (519.7pt,-741pt) {IL8 Expression Level (log2 TPM)};

% ================= B3: VEGFA =================
\begin{axis}[ggb, at={(703.3pt,-449.3pt)}, width=275pt, height=265.7pt, xmin=-0.166, xmax=3.426, ymin=2.37, ymax=10.76,
  xtick={0,1,2,3}, minor xtick={0.5,1.5,2.5}, ytick={4,6,8,10}, minor ytick={3,5,7,9}]
\addplot[ptsb] coordinates {
(0.05,10.37)(0.09,9.11)(0.26,9.87)(0.19,9.44)(0.39,9.93)(0.42,9.68)(0.41,9.74)(0.50,10.02)(0.45,8.98)(0.41,9.00)(0.29,9.11)(0.20,9.02)(0.72,9.89)(0.78,9.58)(0.85,9.53)(0.85,9.47)(0.96,9.42)(0.74,9.32)(1.09,9.11)(1.09,9.05)(1.40,9.35)(1.48,9.32)(1.61,9.37)(1.50,8.89)(1.41,8.86)(2.33,8.82)(1.74,8.76)(1.89,8.53)(2.86,8.49)(1.60,8.42)(0.81,8.47)(0.94,8.55)(1.12,8.40)(1.25,8.16)(1.32,8.02)(0.99,8.32)(0.75,8.32)(0.73,8.24)(0.62,8.53)(0.64,8.47)(0.63,8.79)(0.53,8.53)(0.50,8.32)(0.35,8.63)(0.36,8.53)(0.44,8.47)(0.25,8.47)(0.24,8.53)(0.18,8.58)(0.17,8.53)(0.07,8.42)(0.09,8.40)(0.17,8.21)(0.15,8.02)(0.04,8.00)(0.05,7.98)(0.42,8.32)(0.40,8.11)(0.39,8.21)(0.49,8.00)(0.29,7.95)(0.20,7.74)(0.04,7.71)(0.12,7.37)(0.39,7.53)(0.44,7.42)(0.53,7.37)(0.57,7.26)(0.61,7.32)(0.77,7.89)(0.83,7.95)(1.02,7.71)(0.90,7.37)(0.66,7.32)(0.68,7.26)(0.73,7.00)(0.75,6.97)(0.79,6.97)(0.71,6.74)(0.74,6.49)(0.62,6.66)(0.53,6.95)(0.42,6.98)(0.39,6.84)(0.42,6.63)(0.42,6.55)(0.31,6.68)(0.16,6.98)(0.18,6.98)(0.12,7.05)(0.00,7.13)(0.02,6.76)(0.07,6.42)(0.07,6.37)(0.09,6.53)(0.16,6.56)(0.19,6.37)(0.15,6.00)(0.01,5.53)(0.15,5.45)(0.15,5.40)(0.11,5.26)(0.10,5.05)(0.12,5.02)(0.07,4.95)(0.05,4.68)(0.04,4.39)(0.34,5.19)(0.37,5.53)(0.45,5.95)(0.44,5.66)(0.50,5.49)(0.57,5.53)(0.53,5.84)(0.65,5.84)(0.50,5.05)(0.48,4.26)(0.77,4.95)(0.80,5.93)(0.86,4.11)(0.28,4.11)(0.35,4.35)(0.37,4.35)(0.26,3.26)(0.40,3.23)(0.51,2.74)(0.99,5.37)(1.01,5.28)(1.09,5.26)(1.10,6.11)(1.09,5.95)(1.19,6.55)(1.10,6.95)(1.15,7.11)(1.05,7.16)(1.01,7.71)(1.29,7.24)(1.38,6.55)(1.41,7.11)(1.41,5.87)(1.49,6.53)(1.50,6.55)(1.50,6.89)(1.53,6.37)(1.51,7.47)(1.51,7.77)(1.59,8.42)(1.62,3.95)(1.78,6.42)(1.89,6.14)(2.25,7.82)(2.56,7.28)(2.63,7.21)(2.93,7.68)(3.03,7.68)(0.87,6.68)
};
\addplot[band] coordinates {(0,7.40)(0.3,7.387)(0.6,7.435)(1.0,7.631)(1.5,7.987)(2.0,8.352)(2.5,8.718)(3.27,9.28)(3.27,7.32)(2.5,7.278)(2.0,7.252)(1.5,7.227)(1.0,7.191)(0.6,7.075)(0.3,6.887)(0,6.64)} -- cycle;
\addplot[fitl, line width=1.3pt] coordinates {(0,7.02)(3.27,8.30)};
\end{axis}
\node[font=\fontsize{8}{8}\selectfont, text=ggred, anchor=base east, inner sep=0pt] at (975pt,-458.7pt) {rho = 0.137};
\node[font=\fontsize{8}{8}\selectfont, text=ggred, anchor=base east, inner sep=0pt] at (975pt,-466.4pt) {p = 9.09e-02};
\node[rotate=90, font=\fontsize{13.9}{13.9}\selectfont] at (676pt,-563.3pt) {VEGFA Expression Level (log2 TPM)};
\node[font=\fontsize{12.4}{12.4}\selectfont] at (841.7pt,-738.3pt) {TSLP Expression Level (log2 TPM)};

% ================= B4: VEGFC =================
\begin{axis}[ggb, at={(1016pt,-446.7pt)}, width=285.7pt, height=263.3pt, xmin=-0.10, xmax=4.31, ymin=-0.16, ymax=3.43,
  xtick={0,1,2,3,4}, minor xtick={0.5,1.5,2.5,3.5}, ytick={0,1,2,3}, minor ytick={0.5,1.5,2.5}]
\addplot[ptsb] coordinates {
(0.90,3.26)(1.08,2.87)(1.81,2.94)(3.65,3.05)(3.83,2.64)(1.88,2.57)(2.22,2.33)(2.53,2.26)(0.91,1.90)(1.67,1.90)(1.98,1.78)(1.54,1.74)(2.23,1.60)(1.26,1.59)(0.99,1.61)(0.60,1.51)(0.46,1.49)(0.72,1.48)(0.80,1.54)(0.86,1.50)(0.88,1.48)(1.12,1.50)(1.09,1.43)(1.49,1.50)(1.71,1.42)(2.29,1.42)(2.46,1.30)(1.80,1.32)(2.52,1.05)(0.96,1.39)(0.98,1.36)(1.08,1.35)(0.99,1.25)(0.48,1.19)(0.47,1.16)(0.54,1.09)(0.79,1.08)(1.22,1.10)(1.21,1.09)(1.39,1.09)(1.41,1.10)(1.14,1.01)(0.54,0.99)(0.64,0.95)(0.67,0.95)(1.83,1.17)(1.89,0.98)(4.23,1.01)(2.02,0.86)(0.21,0.78)(0.53,0.80)(0.76,0.85)(1.04,0.74)(1.14,0.82)(0.99,0.71)(0.89,0.66)(1.36,0.70)(1.40,0.72)(1.51,0.77)(1.68,0.84)(1.71,0.85)(1.79,0.80)(1.88,0.63)(2.29,0.72)(2.46,0.77)(0.40,0.71)(0.42,0.52)(0.32,0.50)(0.53,0.52)(0.58,0.42)(0.67,0.55)(0.77,0.50)(0.86,0.52)(0.80,0.43)(0.11,0.41)(0.27,0.34)(0.28,0.30)(0.26,0.20)(0.23,0.06)(0.33,0.14)(0.34,0.00)(0.40,0.01)(0.43,0.00)(0.51,0.00)(0.53,0.06)(0.58,0.09)(0.60,0.08)(0.67,0.06)(0.71,0.05)(0.76,0.08)(0.79,0.06)(0.85,0.11)(0.89,0.14)(0.91,0.03)(1.00,0.16)(1.03,0.18)(1.09,0.20)(1.12,0.20)(1.15,0.17)(1.18,0.17)(1.12,0.05)(1.04,0.41)(1.09,0.42)(1.17,0.45)(1.26,0.43)(1.16,0.36)(1.18,0.38)(0.91,0.30)(0.89,0.24)(0.73,0.18)(0.68,0.20)(0.71,0.34)(0.63,0.30)(0.53,0.34)(0.45,0.27)(1.36,0.18)(1.43,0.08)(1.53,0.16)(1.39,0.35)(1.43,0.60)(1.56,0.45)(1.59,0.49)(1.66,0.33)(1.70,0.08)(1.79,0.42)(1.34,0.55)(1.25,0.57)(1.27,0.66)(3.07,0.49)(2.32,0.30)(2.40,0.29)(0.62,0.68)(0.94,0.52)(1.07,0.61)
};
\addplot[band] coordinates {(0.1,0.52)(0.5,0.619)(1.0,0.788)(1.5,1.006)(2.0,1.265)(3.0,1.803)(4.2,2.43)(4.2,1.53)(3.0,1.203)(2.0,0.945)(1.5,0.806)(1.0,0.628)(0.5,0.399)(0.1,0.18)} -- cycle;
\addplot[fitl, line width=1.3pt] coordinates {(0.1,0.35)(4.2,1.98)};
\end{axis}
\node[font=\fontsize{8}{8}\selectfont, text=ggred, anchor=base east, inner sep=0pt] at (1302pt,-455.7pt) {rho = 0.354};
\node[font=\fontsize{8}{8}\selectfont, text=ggred, anchor=base east, inner sep=0pt] at (1302pt,-464.7pt) {p = 7.06e-06};
\node[rotate=90, font=\fontsize{12.5}{12.5}\selectfont] at (995pt,-571.7pt) {TSLP Expression Level (log2 TPM)};
\node[font=\fontsize{13}{13}\selectfont] at (1162.7pt,-733.3pt) {VEGFC Expression Level (log2 TPM)};

% ================= Titles =================
\node[font=\fontsize{16}{16}\selectfont\bfseries] at (128pt,-30pt) {A};
\node[font=\fontsize{30}{30}\selectfont\bfseries] at (395pt,-20pt) {LGG};
\node[font=\fontsize{30}{30}\selectfont\bfseries] at (1022pt,-20pt) {GBM};
\node[font=\fontsize{30}{30}\selectfont\bfseries] at (660pt,-408pt) {GBM};
\node[font=\fontsize{16}{16}\selectfont\bfseries] at (14.5pt,-437.5pt) {B};
\end{tikzpicture}
\end{document}
